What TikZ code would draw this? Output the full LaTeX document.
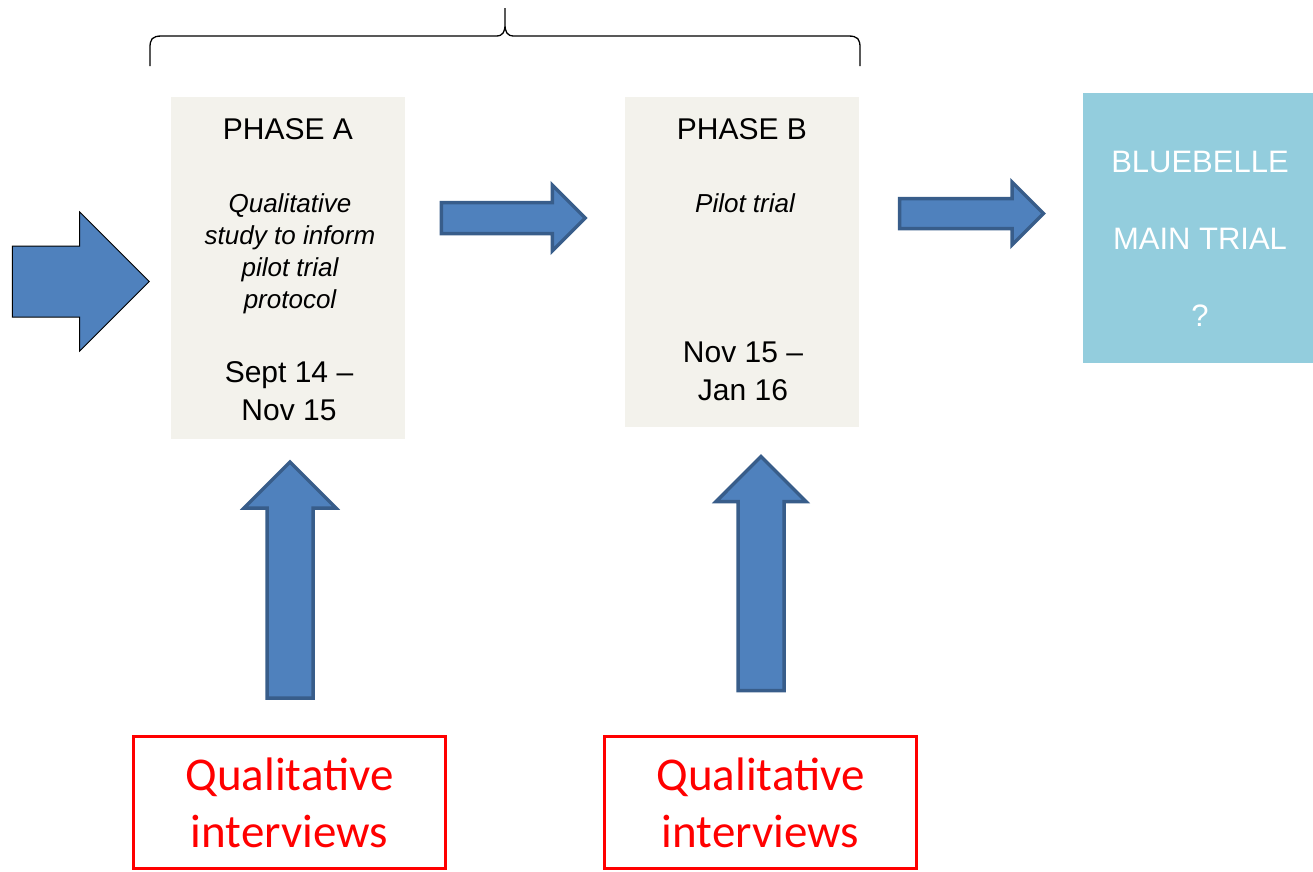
\documentclass[tikz,border=0pt]{standalone}
\usepackage{fontspec}
\setmainfont{Liberation Sans}
\newfontfamily\calibri{Carlito}
\usetikzlibrary{shapes.arrows}

\definecolor{arrowfill}{HTML}{4F81BD}
\definecolor{arrowline}{HTML}{385D8A}
\definecolor{phasefill}{HTML}{F3F2EC}
\definecolor{trialfill}{HTML}{93CDDD}

\tikzset{
  phasebox/.style={fill=phasefill, minimum width=234pt, inner sep=0pt},
  blockarrow/.style={single arrow, fill=arrowfill, draw=arrowline,
    line width=3.5pt, inner xsep=0pt, single arrow head indent=0pt},
  titletext/.style={anchor=base, font=\fontsize{30}{38}\selectfont},
  desctext/.style={anchor=base, align=center, font=\fontsize{26}{32}\selectfont\itshape},
  datetext/.style={anchor=base, align=center, font=\fontsize{30}{38}\selectfont},
  interviewbox/.style={draw=red, line width=3pt, minimum width=312pt,
    minimum height=132pt, inner sep=0pt},
  interviewtext/.style={anchor=base, align=center, text=red,
    font=\calibri\fontsize{47}{57}\selectfont}
}

\begin{document}
\begin{tikzpicture}[x=1pt, y=-1pt]
  \useasboundingbox (0,0) rectangle (1313,871);

  % Brace over both phases
  \draw[line width=1.3pt]
    (150,66) -- (150,48) .. controls (150,39) and (152,36) .. (162,36)
    -- (496,36) .. controls (503,36) and (505,32) .. (505,24) -- (505,8)
    -- (505,24) .. controls (505,32) and (507,36) .. (514,36)
    -- (848,36) .. controls (858,36) and (860,39) .. (860,48) -- (860,66);

  % Phase boxes
  \node[phasebox, minimum height=342pt] (phaseA) at (288,268) {};
  \node[phasebox, minimum height=330pt] (phaseB) at (742,262) {};
  \node[fill=trialfill, minimum width=230pt, minimum height=270pt,
        inner sep=0pt] (trial) at (1198,228) {};

  % Phase A (base = last line)
  \node[titletext] (titleA) at (288,139) {PHASE A};
  \node[desctext] (descA) at (290,308)
    {Qualitative\\study to inform\\pilot trial\\protocol};
  \node[datetext] (datesA) at (289,420) {Sept 14 --\\Nov 15};

  % Phase B
  \node[titletext] (titleB) at (742,139) {PHASE B};
  \node[desctext] (descB) at (745,212) {Pilot trial};
  \node[datetext] (datesB) at (743,400) {Nov 15 --\\Jan 16};

  % Main trial
  \node[anchor=base, align=center, text=white,
        font=\fontsize{31}{77}\selectfont] (trialtext) at (1200,326)
    {BLUEBELLE\\MAIN TRIAL\\?};

  % Horizontal arrows
  \node[single arrow, fill=arrowfill, draw=black, line width=1pt,
        inner xsep=0pt, inner ysep=35pt, single arrow head indent=0pt,
        minimum height=137pt, single arrow head extend=34pt] (inArrow) at (63,281.5) {};
  \node[blockarrow, inner ysep=13.75pt, minimum height=144pt,
        single arrow head extend=17.5pt] (arrowAB) at (505.5,218) {};
  \node[blockarrow, inner ysep=13.25pt, minimum height=144pt,
        single arrow head extend=16.5pt] (arrowBT) at (964,213.5) {};

  % Up arrows
  \node[blockarrow, rotate=90, inner ysep=21.25pt, minimum height=236pt,
        single arrow head extend=23pt] (upA) at (290,591.5) {};
  \node[blockarrow, rotate=90, inner ysep=21.25pt, minimum height=234pt,
        single arrow head extend=22pt] (upB) at (761,585) {};

  % Interview boxes
  \node[interviewbox] (interA) at (289.5,802) {};
  \node[interviewbox] (interB) at (760.5,802) {};
  \node[interviewtext] (interAtext) at (289.5,847) {Qualitative\\interviews};
  \node[interviewtext] (interBtext) at (760.5,847) {Qualitative\\interviews};
\end{tikzpicture}
\end{document}
